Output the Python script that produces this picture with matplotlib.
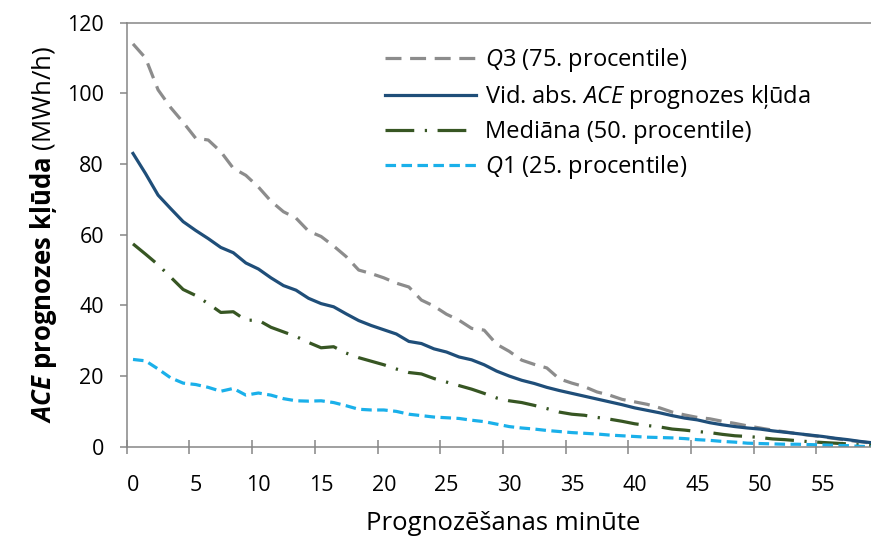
import numpy as np
import matplotlib
matplotlib.use('Agg')
import matplotlib.pyplot as plt
from matplotlib.ticker import FixedLocator

plt.rcParams['font.family'] = ['Open Sans', 'DejaVu Sans']
plt.rcParams['mathtext.fontset'] = 'custom'
plt.rcParams['mathtext.rm'] = 'Open Sans'
plt.rcParams['mathtext.it'] = 'Open Sans:italic'
plt.rcParams['mathtext.bf'] = 'Open Sans:bold'
plt.rcParams['mathtext.bfit'] = 'Open Sans:bold:italic'

# forecast minute (categories 0..59)
minutes = list(range(60))

q3 = [114.0, 110.0, 101.0, 96.0, 91.8, 87.3, 86.8, 83.5, 78.8, 76.8,
      73.5, 69.5, 66.5, 64.7, 61.0, 59.5, 56.8, 53.8, 50.0, 49.0,
      47.8, 46.3, 45.2, 41.5, 39.8, 37.5, 35.8, 33.5, 33.0, 29.0,
      27.0, 24.5, 23.3, 22.3, 19.2, 18.0, 17.0, 15.5, 14.6, 13.4,
      12.7, 12.0, 11.0, 9.8, 9.0, 8.3, 7.9, 7.2, 6.6, 5.9,
      5.3, 4.7, 4.2, 3.7, 3.2, 2.8, 2.3, 1.8, 1.4, 1.0]

mean_abs = [83.0, 77.3, 71.2, 67.4, 63.7, 61.2, 58.9, 56.4, 54.9, 52.0,
            50.3, 47.8, 45.6, 44.3, 42.0, 40.5, 39.6, 37.6, 35.7, 34.3,
            33.1, 31.9, 29.8, 29.2, 27.7, 26.8, 25.4, 24.6, 23.2, 21.4,
            20.0, 18.8, 17.9, 16.8, 15.9, 15.1, 14.3, 13.5, 12.7, 11.9,
            11.0, 10.3, 9.6, 8.8, 8.1, 7.6, 6.8, 6.2, 5.7, 5.3,
            5.0, 4.5, 4.1, 3.7, 3.3, 2.9, 2.4, 2.0, 1.5, 1.1]

median = [57.4, 54.5, 51.5, 48.0, 44.5, 42.8, 40.5, 38.0, 38.2, 35.8,
          35.8, 33.8, 32.5, 31.2, 29.5, 28.0, 28.3, 26.5, 25.2, 24.2,
          23.2, 22.0, 21.0, 20.6, 19.3, 18.3, 17.3, 16.3, 15.1, 13.8,
          13.0, 12.5, 11.7, 10.8, 9.8, 9.2, 8.9, 8.3, 7.8, 7.2,
          6.5, 6.0, 5.6, 5.0, 4.7, 4.3, 4.0, 3.5, 3.1, 2.9,
          2.6, 2.2, 2.0, 1.7, 1.4, 1.2, 1.0, 0.8, 0.5, 0.3]

q1 = [24.7, 24.3, 22.0, 19.5, 18.0, 17.6, 16.8, 15.7, 16.5, 14.6,
      15.2, 14.6, 13.6, 13.0, 12.9, 13.0, 12.5, 11.6, 10.6, 10.4,
      10.4, 10.0, 9.2, 8.8, 8.4, 8.2, 8.0, 7.5, 7.1, 6.4,
      5.7, 5.3, 5.0, 4.6, 4.3, 4.0, 3.8, 3.6, 3.3, 3.1,
      2.9, 2.7, 2.6, 2.5, 2.3, 2.0, 1.8, 1.5, 1.3, 1.0,
      0.9, 0.8, 0.7, 0.7, 0.6, 0.5, 0.4, 0.3, 0.1, 0.0]

xlabels = [str(m) for m in range(0, 60, 5)]

axis_col = '#868686'
fs = 15.5

fig = plt.figure(figsize=(8.71, 5.39), dpi=100)
# plot area runs a little past the right edge of the picture, as in the original
ax = fig.add_axes([0.1455, 0.1712, 0.8638, 0.7867])

lw = 2.3
ax.plot(minutes, q3, color='#8C8C8C', lw=lw, dashes=(5, 2.7),
        label=r'$\mathit{Q}$3 (75. procentile)')
ax.plot(minutes, mean_abs, color='#1F4E79', lw=lw,
        label=r'Vid. abs. $\mathit{ACE}$ prognozes kļūda')
ax.plot(minutes, median, color='#375623', lw=lw, dashes=(9, 3.3, 0.7, 3.3),
        label='Mediāna (50. procentile)')
ax.plot(minutes, q1, color='#1AB0EA', lw=lw, dashes=(3.3, 1.7),
        label=r'$\mathit{Q}$1 (25. procentile)')

ax.set_xlim(-0.5, 59.5)
ax.set_ylim(0, 120)
ax.set_yticks(np.arange(0, 121, 20))

# category axis: tick marks between categories, labels on categories
ax.xaxis.set_major_locator(FixedLocator(np.arange(-0.5, 60, 5)))
ax.xaxis.set_major_formatter(plt.NullFormatter())
ax.xaxis.set_minor_locator(FixedLocator(np.arange(0, 60, 5)))
ax.set_xticklabels(xlabels, minor=True)
ax.tick_params(axis='x', which='major', direction='inout', length=9.5,
               width=1.1, color=axis_col)
ax.tick_params(axis='x', which='minor', length=0, pad=20.5, labelsize=fs)
ax.tick_params(axis='y', direction='out', length=5.4, width=1.1,
               color=axis_col, pad=11, labelsize=fs)

for side in ['left', 'bottom', 'top']:
    ax.spines[side].set_color(axis_col)
    ax.spines[side].set_linewidth(1.1)
ax.spines['right'].set_visible(False)

ax.set_xlabel('Prognozēšanas minūte', fontsize=18.5, labelpad=11)
ax.set_ylabel(r'$\mathbfit{ACE}$ $\mathbf{prognozes\ kļūda}$ (MWh/h)',
              fontsize=18.5, labelpad=6)

ax.legend(loc='upper left', bbox_to_anchor=(385 / 871, 1 - 46 / 539),
          bbox_transform=fig.transFigure, frameon=False, fontsize=17,
          handlelength=3.86, handletextpad=0.38, labelspacing=0.38,
          borderpad=0, borderaxespad=0)

fig.savefig('out.png', dpi=100)
